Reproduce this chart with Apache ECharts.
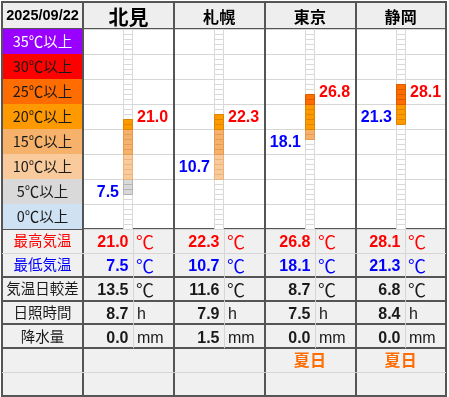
<!DOCTYPE html>
<html><head><meta charset="utf-8">
<script src="https://cdn.jsdelivr.net/npm/echarts@6/dist/echarts.min.js"></script>
<style>html,body{margin:0;padding:0;background:#fff}#c{width:449px;height:397px}</style>
</head><body><div id="c"></div>
<script>
// ---- data ----
const dateLabel = '2025/09/22';
const cities = ['北見', '札幌', '東京', '静岡'];
const maxTemp = [21.0, 22.3, 26.8, 28.1];
const minTemp = [7.5, 10.7, 18.1, 21.3];
const diffTemp = [13.5, 11.6, 8.7, 6.8];
const sunshine = [8.7, 7.9, 7.5, 8.4];
const precip = [0.0, 1.5, 0.0, 0.0];
const remarks = ['', '', '夏日', '夏日'];
const bandFloors = [35, 30, 25, 20, 15, 10, 5, 0];
const bandLabels = ['35℃以上', '30℃以上', '25℃以上', '20℃以上', '15℃以上', '10℃以上', '5℃以上', '0℃以上'];
const rowLabels = ['最高気温', '最低気温', '気温日較差', '日照時間', '降水量', '', ''];
const rowUnits = ['℃', '℃', '℃', 'h', 'mm'];
const tempScaleMin = 0, tempScaleMax = 40;

// ---- styles ----
const LATIN = '"Liberation Sans", Arial, "Noto Sans CJK JP", sans-serif';
const CJK = '"Noto Sans CJK JP", sans-serif';
const DARK = '#555555', LIGHT = '#d6d6d6';
const RED = '#ff0000', BLUE = '#0000ff', INK = '#1a1a1a', SUMMER = '#ff6d01';
const rowColors = [RED, BLUE, INK, INK, INK, INK, INK];
const rowBottomLine = [LIGHT, DARK, DARK, DARK, DARK, LIGHT, null];
const bandStyle = {
  35: {fill: '#9900ff', edge: '#7a00cc', text: '#ffffff'},
  30: {fill: '#ff0000', edge: '#cc0000', text: INK},
  25: {fill: '#ff6d01', edge: '#d95a00', text: INK},
  20: {fill: '#ff9900', edge: '#dd8400', text: INK},
  15: {fill: '#f6b26b', edge: '#e39a52', text: INK},
  10: {fill: '#f9cb9c', edge: '#ecb27c', text: INK},
  5:  {fill: '#d9d9d9', edge: '#b3b3b3', text: INK},
  0:  {fill: '#cfe2f3', edge: '#a9c4de', text: INK}
};
const valueRows = [maxTemp, minTemp, diffTemp, sunshine, precip];

// layout (px)
const X0 = 2, XS = 83, X1 = 446, Y0 = 2, YH = 29, YT = 229, Y1 = 396;

function grid(left, top, right, bottom, bg) {
  return {left, top, width: right - left, height: bottom - top, show: true,
    backgroundColor: bg, borderColor: DARK, borderWidth: 2, containLabel: false};
}
const hidden = {axisLine: {show: false}, axisTick: {show: false}, axisLabel: {show: false}};
function catAxis(gridIndex, data, extra) {
  return Object.assign({type: 'category', gridIndex, data, splitLine: {show: false}}, hidden, extra || {});
}
const colLines = {splitLine: {show: true, interval: 0, lineStyle: {color: DARK, width: 2}}};

function hline(x1, x2, y, color, w) {
  return {type: 'line', shape: {x1, y1: y, x2, y2: y}, style: {stroke: color, lineWidth: w}};
}
function vline(x, y1, y2, color, w) {
  return {type: 'line', shape: {x1: x, y1, x2: x, y2}, style: {stroke: color, lineWidth: w}};
}
function txt(text, x, y, font, fill, align) {
  return {type: 'text', style: {text, x, y, font, fill, align: align || 'center', verticalAlign: 'middle'}};
}

const option = {
  animation: false,
  backgroundColor: '#ffffff',
  grid: [
    grid(X0, Y0, XS, YH, '#eeeeee'),   // 0 date
    grid(XS, Y0, X1, YH, '#eeeeee'),   // 1 city header
    grid(X0, YH, XS, YT, '#ffffff'),   // 2 bands
    grid(XS, YH, X1, YT, '#ffffff'),   // 3 thermometers
    grid(X0, YT, XS, Y1, '#f0f0f0'),   // 4 row labels
    grid(XS, YT, X1, Y1, '#f0f0f0')    // 5 values
  ],
  xAxis: [
    catAxis(0, ['']),
    catAxis(1, cities, colLines),
    catAxis(2, ['']),
    catAxis(3, cities, colLines),
    catAxis(4, ['']),
    catAxis(5, cities, colLines)
  ],
  yAxis: [
    catAxis(0, ['']),
    catAxis(1, ['']),
    Object.assign({type: 'value', gridIndex: 2, min: tempScaleMin, max: tempScaleMax, interval: 5, splitLine: {show: false}}, hidden),
    Object.assign({type: 'value', gridIndex: 3, min: tempScaleMin, max: tempScaleMax, interval: 5,
      splitLine: {show: true, lineStyle: {color: LIGHT, width: 1}}}, hidden),
    catAxis(4, rowLabels.map((_, i) => 'r' + i), {inverse: true}),
    catAxis(5, rowLabels.map((_, i) => 'r' + i), {inverse: true})
  ],
  series: [
    { // date
      type: 'custom', xAxisIndex: 0, yAxisIndex: 0, data: [[0, 0]],
      renderItem(params, api) {
        const p = api.coord([0, 0]);
        return txt(dateLabel, p[0], p[1] + 0.5, `bold 14.5px ${LATIN}`, '#000');
      }
    },
    { // city header
      type: 'custom', xAxisIndex: 1, yAxisIndex: 1, data: cities.map((_, i) => [i, 0]),
      renderItem(params, api) {
        const i = api.value(0);
        const p = api.coord([i, 0]);
        const size = i === 0 ? 20 : 16;
        return txt(cities[i], p[0], p[1] + 1.5, `bold ${size}px ${CJK}`, '#000');
      }
    },
    { // temperature bands
      type: 'custom', xAxisIndex: 2, yAxisIndex: 2, data: bandFloors.map(b => [0, b]),
      renderItem(params, api) {
        const b = api.value(1);
        const cs = params.coordSys;
        const yTop = Math.round(api.coord([0, b + 5])[1]);
        const yBot = Math.round(api.coord([0, b])[1]);
        const st = bandStyle[b];
        const i = params.dataIndex;
        return {type: 'group', children: [
          {type: 'rect', shape: {x: cs.x + 1, y: yTop, width: cs.width - 2, height: yBot - yTop},
            style: {fill: st.fill}},
          txt(bandLabels[i], cs.x + cs.width / 2, (yTop + yBot) / 2, `14.5px ${CJK}`, st.text)
        ]};
      }
    },
    { // thermometers
      type: 'custom', xAxisIndex: 3, yAxisIndex: 3, z: 5,
      data: cities.map((_, i) => [i, minTemp[i], maxTemp[i]]),
      renderItem(params, api) {
        const c = api.value(0), lo = api.value(1), hi = api.value(2);
        const cx = Math.round(api.coord([c, 0])[0]);
        const off = [], on = [];
        for (let t = tempScaleMin; t < tempScaleMax; t++) {
          const yTop = Math.round(api.coord([c, t + 1])[1]);
          const yBot = Math.round(api.coord([c, t])[1]);
          const filled = t >= Math.floor(lo) && t <= Math.floor(hi);
          const st = bandStyle[Math.floor(t / 5) * 5];
          const r = {type: 'rect', shape: {x: cx - 4.5, y: yTop + 0.5, width: 9, height: yBot - yTop},
            style: {fill: filled ? st.fill : '#ffffff', stroke: filled ? st.edge : '#d9d9d9', lineWidth: 1}};
          (filled ? on : off).push(r);
        }
        const yMax = api.coord([c, Math.floor(hi / 5) * 5 + 2.5])[1];
        const yMin = api.coord([c, Math.floor(lo / 5) * 5 + 2.5])[1];
        return {type: 'group', children: off.concat(on, [
          txt(hi.toFixed(1), cx + 9, yMax + 1, `bold 16px ${LATIN}`, RED, 'left'),
          txt(lo.toFixed(1), cx - 9, yMin + 1, `bold 16px ${LATIN}`, BLUE, 'right')
        ])};
      }
    },
    { // row labels
      type: 'custom', xAxisIndex: 4, yAxisIndex: 4, data: rowLabels.map((_, r) => [0, r]),
      renderItem(params, api) {
        const r = api.value(1);
        const p = api.coord([0, r]);
        const sz = api.size([1, 1]);
        const cs = params.coordSys;
        const ch = [];
        const yb = Math.round(p[1] + sz[1] / 2);
        if (rowBottomLine[r]) ch.push(hline(cs.x, cs.x + cs.width, rowBottomLine[r] === DARK ? yb : yb + 0.5, rowBottomLine[r], rowBottomLine[r] === DARK ? 2 : 1));
        if (rowLabels[r]) ch.push(txt(rowLabels[r], cs.x + cs.width / 2, p[1], `14.5px ${CJK}`, rowColors[r]));
        return {type: 'group', children: ch};
      }
    },
    { // table values
      type: 'custom', xAxisIndex: 5, yAxisIndex: 5,
      data: (() => { const d = []; for (let r = 0; r < rowLabels.length; r++) for (let c = 0; c < cities.length; c++) d.push([c, r]); return d; })(),
      renderItem(params, api) {
        const c = api.value(0), r = api.value(1);
        const p = api.coord([c, r]);
        const sz = api.size([1, 1]);
        const left = p[0] - sz[0] / 2, top = p[1] - sz[1] / 2, bottom = p[1] + sz[1] / 2;
        const ch = [];
        const yb = Math.round(bottom);
        if (rowBottomLine[r]) ch.push(hline(left, left + sz[0], rowBottomLine[r] === DARK ? yb : yb + 0.5, rowBottomLine[r], rowBottomLine[r] === DARK ? 2 : 1));
        if (r < valueRows.length) {
          const sx = Math.round(left + 50) + 0.5;
          ch.push(vline(sx, top, bottom, LIGHT, 1));
          ch.push(txt(valueRows[r][c].toFixed(1), sx - 5, p[1] + 2, `bold 16px ${LATIN}`, rowColors[r], 'right'));
          const unitColor = r < 2 ? rowColors[r] : INK;
          const isDeg = rowUnits[r] === '℃';
          const unitFont = isDeg ? `18px ${CJK}` : `16px ${LATIN}`;
          ch.push(txt(rowUnits[r], sx + (isDeg ? 2.5 : 3.5), p[1] + (isDeg ? 1.5 : 2), unitFont, unitColor, 'left'));
        } else if (r === valueRows.length && remarks[c]) {
          ch.push(txt(remarks[c], p[0], p[1], `bold 16px ${CJK}`, SUMMER));
        }
        return {type: 'group', children: ch};
      }
    }
  ]
};
const chart = echarts.init(document.getElementById('c'), null, {renderer: 'canvas'});
chart.setOption(option);
</script>
</body></html>
